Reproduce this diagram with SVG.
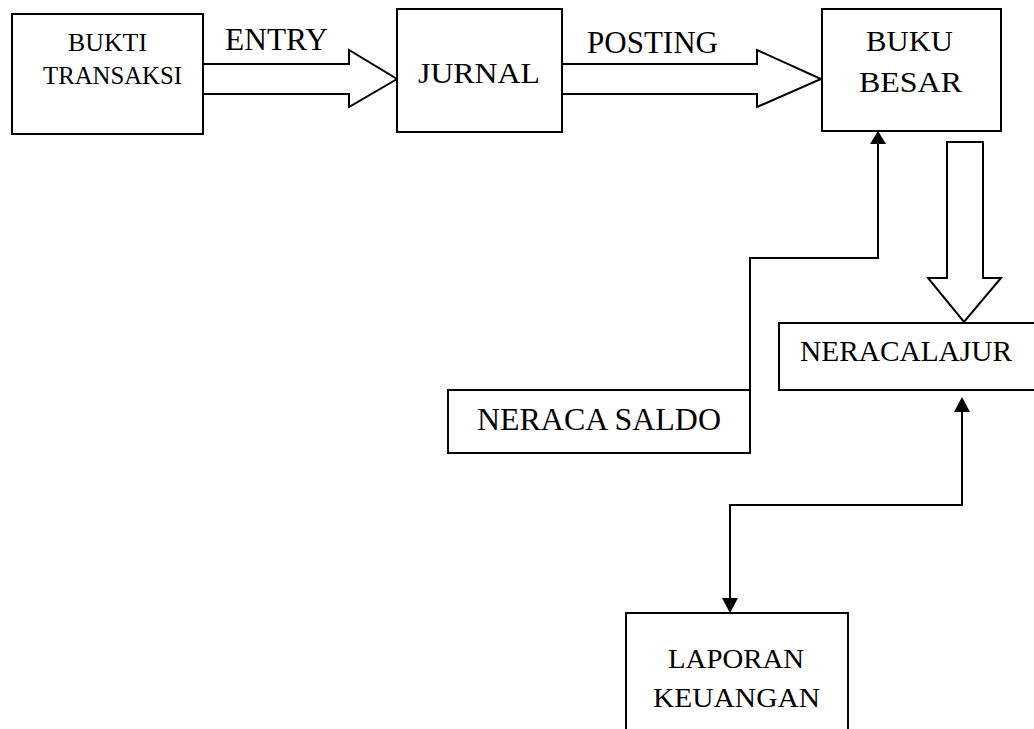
<svg xmlns="http://www.w3.org/2000/svg" width="1034" height="729" viewBox="0 0 1034 729">
<style>
.box{fill:#fff;stroke:#000;stroke-width:2}
.hollow{fill:#fff;stroke:#000;stroke-width:2;stroke-linejoin:miter}
.line{fill:none;stroke:#000;stroke-width:2}
.head{fill:#000;stroke:none}
text{font-family:"Liberation Serif","Times New Roman",serif;fill:#000}
</style>
<rect width="1034" height="729" fill="#fff"/>
<g id="connectors">
  <g id="entry-arrow">
    <polygon class="hollow" points="203,64 349,64 349,50 397,79 349,107 349,94 203,94"/>
    <text x="225" y="50" font-size="32" textLength="103" lengthAdjust="spacingAndGlyphs">ENTRY</text>
  </g>
  <g id="posting-arrow">
    <polygon class="hollow" points="562,64 757,64 757,50 821,79 757,107 757,94 562,94"/>
    <text x="587" y="53" font-size="31" textLength="131" lengthAdjust="spacingAndGlyphs">POSTING</text>
  </g>
  <polygon id="bukubesar-to-neracalajur" class="hollow" points="947,142 983,142 983,278 1001,278 964,322 928,278 947,278"/>
  <g id="neracasaldo-to-bukubesar">
    <polyline class="line" points="750,453 750,258 878,258 878,142"/>
    <polygon class="head" points="878,131 870,144 886,144"/>
  </g>
  <g id="neracalajur-laporan">
    <polyline class="line" points="962,410 962,505 730,505 730,600"/>
    <polygon class="head" points="962,397 954,412 970,412"/>
    <polygon class="head" points="730,613 722,598 738,598"/>
  </g>
</g>
<g id="node-bukti">
  <rect class="box" x="12" y="14" width="191" height="120"/>
  <text x="68" y="51" font-size="26" textLength="79" lengthAdjust="spacingAndGlyphs">BUKTI</text>
  <text x="43" y="84" font-size="26" textLength="139" lengthAdjust="spacingAndGlyphs">TRANSAKSI</text>
</g>
<g id="node-jurnal">
  <rect class="box" x="397" y="9" width="165" height="123"/>
  <text x="418" y="83" font-size="30" textLength="122" lengthAdjust="spacingAndGlyphs">JURNAL</text>
</g>
<g id="node-bukubesar">
  <rect class="box" x="822" y="9" width="179" height="122"/>
  <text x="866" y="51" font-size="30" textLength="87" lengthAdjust="spacingAndGlyphs">BUKU</text>
  <text x="859" y="92" font-size="30" textLength="103" lengthAdjust="spacingAndGlyphs">BESAR</text>
</g>
<g id="node-neracalajur">
  <rect class="box" x="779" y="323" width="270" height="67"/>
  <text x="800" y="361" font-size="30" textLength="212" lengthAdjust="spacingAndGlyphs">NERACALAJUR</text>
</g>
<g id="node-neracasaldo">
  <rect class="box" x="448" y="390" width="302" height="63"/>
  <text x="477" y="430" font-size="31" textLength="244" lengthAdjust="spacingAndGlyphs">NERACA SALDO</text>
</g>
<g id="node-laporan">
  <rect class="box" x="626" y="613" width="222" height="130"/>
  <text x="668" y="668" font-size="28" textLength="136" lengthAdjust="spacingAndGlyphs">LAPORAN</text>
  <text x="653" y="707" font-size="28" textLength="167" lengthAdjust="spacingAndGlyphs">KEUANGAN</text>
</g>
</svg>
